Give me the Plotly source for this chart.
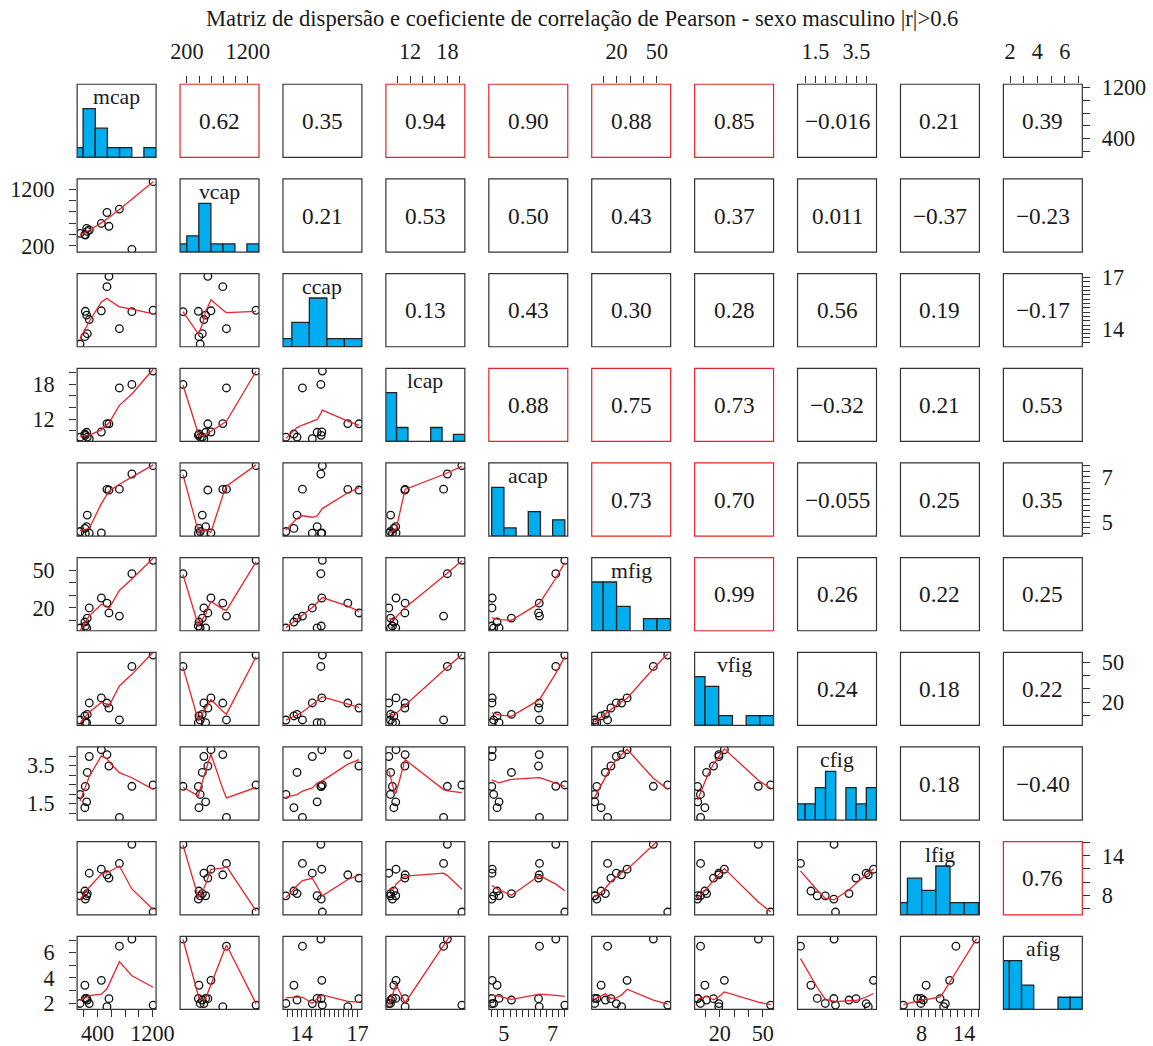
import numpy as np
import plotly.graph_objects as go

# ---------------------------------------------------------------- data
variables = ["mcap", "vcap", "ccap", "lcap", "acap", "mfig", "vfig", "cfig", "lfig", "afig"]

mcap = [145, 215, 222, 241, 250, 279, 455, 537, 566, 718, 900, 1210]
vcap = [419, 398, 388, 508, 453, 479, 595, 789, 544, 849, 136, 1335]
ccap = [13.15, 13.58, 15.05, 14.83, 13.75, 14.57, 15.08, 16.48, 17.08, 14.04, 15.03, 15.11]
lcap = [8.85, 9.40, 9.17, 9.70, 8.88, 8.59, 9.75, 11.21, 11.17, 17.38, 17.99, 20.32]
acap = [4.58, 4.72, 4.50, 4.80, 5.31, 4.51, 4.52, 6.45, 6.42, 6.46, 7.13, 7.50]
mfig = [3.7, 8.5, 5.3, 3.8, 11.7, 19.8, 27.8, 23.7, 15.8, 13.3, 47.3, 58.0]
vfig = [6.5, 9.6, 4.5, 4.6, 10.8, 19.4, 23.2, 19.3, 15.6, 6.6, 46.9, 55.5]
cfig = [1.98, 1.28, 2.40, 1.59, 3.14, 3.98, 4.34, 4.08, 3.48, 0.77, 2.41, 2.48]
lfig = [7.90, 8.63, 7.40, 7.91, 8.24, 11.34, 11.95, 11.10, 10.60, 12.83, 15.73, 5.43]
afig = [1.98, 3.42, 2.37, 2.38, 2.25, 1.97, 3.81, 1.72, 2.36, 6.51, 7.08, 1.85]

# Pearson r, upper triangle, one list per row
r_mcap = [0.62, 0.35, 0.94, 0.90, 0.88, 0.85, -0.016, 0.21, 0.39]
r_vcap = [0.21, 0.53, 0.50, 0.43, 0.37, 0.011, -0.37, -0.23]
r_ccap = [0.13, 0.43, 0.30, 0.28, 0.56, 0.19, -0.17]
r_lcap = [0.88, 0.75, 0.73, -0.32, 0.21, 0.53]
r_acap = [0.73, 0.70, -0.055, 0.25, 0.35]
r_mfig = [0.99, 0.26, 0.22, 0.25]
r_vfig = [0.24, 0.18, 0.22]
r_cfig = [0.18, -0.40]
r_lfig = [0.76]
r_threshold = 0.6

# tick marks on horizontal and vertical axes, and the values that carry a label
x_ticks = {
    "mcap": [200, 400, 600, 800, 1000, 1200],
    "vcap": [200, 400, 600, 800, 1000, 1200],
    "ccap": [13.25, 13.5, 13.75, 14, 14.25, 14.5, 14.75, 15, 15.25, 15.5, 15.75, 16, 16.25, 16.5, 16.75, 17],
    "lcap": [10, 12, 14, 16, 18, 20],
    "acap": [4.5, 4.75, 5, 5.25, 5.5, 5.75, 6, 6.25, 6.5, 6.75, 7, 7.25, 7.5],
    "mfig": [10, 20, 30, 40, 50],
    "vfig": [10, 20, 30, 40, 50],
    "cfig": [1.0, 1.5, 2.0, 2.5, 3.0, 3.5, 4.0],
    "lfig": [6, 7, 8, 9, 10, 11, 12, 13, 14, 15, 16],
    "afig": [2, 3, 4, 5, 6, 7],
}
y_ticks = {
    "mcap": [200, 400, 600, 800, 1000, 1200],
    "vcap": [200, 400, 600, 800, 1000, 1200],
    "ccap": [13.25, 13.5, 13.75, 14, 14.25, 14.5, 14.75, 15, 15.25, 15.5, 15.75, 16, 16.25, 16.5, 16.75, 17],
    "lcap": [10, 12, 14, 16, 18, 20],
    "acap": [4.5, 4.75, 5, 5.25, 5.5, 5.75, 6, 6.25, 6.5, 6.75, 7, 7.25, 7.5],
    "mfig": [10, 20, 30, 40, 50],
    "vfig": [10, 20, 30, 40, 50],
    "cfig": [1.0, 1.5, 2.0, 2.5, 3.0, 3.5, 4.0],
    "lfig": [6, 8, 10, 12, 14, 16],
    "afig": [2, 3, 4, 5, 6, 7],
}
tick_labels = {
    "mcap": [400, 1200], "vcap": [200, 1200], "ccap": [14, 17], "lcap": [12, 18],
    "acap": [5, 7], "mfig": [20, 50], "vfig": [20, 50], "cfig": [1.5, 3.5],
    "lfig": [8, 14], "afig": [2, 4, 6],
}
# histogram breaks: (first break, bin width)
hist_breaks = {
    "mcap": (0, 200), "vcap": (0, 200), "ccap": (12.5, 1), "lcap": (8, 2),
    "acap": (4.5, 0.5), "mfig": (0, 10), "vfig": (0, 10), "cfig": (0.5, 0.5),
    "lfig": (4, 2), "afig": (1, 1),
}

# ---------------------------------------------------------------- helpers
values = {name: np.asarray(globals()[name], float) for name in variables}
r_rows = [r_mcap, r_vcap, r_ccap, r_lcap, r_acap, r_mfig, r_vfig, r_cfig, r_lfig]


def _lowest(x, y, xs, nleft, nright, rw, userw):
    n = len(x)
    rng = x[-1] - x[0]
    h = max(xs - x[nleft], x[nright] - xs)
    h9, h1 = 0.999 * h, 0.001 * h
    w = np.zeros(n)
    a = 0.0
    j = nleft
    while j < n:
        r = abs(x[j] - xs)
        if r <= h9:
            w[j] = 1.0 if r <= h1 else (1 - (r / h) ** 3) ** 3
            if userw:
                w[j] *= rw[j]
            a += w[j]
        elif x[j] > xs:
            break
        j += 1
    nrt = j - 1
    if a <= 0:
        return 0.0, False
    sl = slice(nleft, nrt + 1)
    w[sl] /= a
    if h > 0:
        a = np.sum(w[sl] * x[sl])
        b = xs - a
        c = np.sum(w[sl] * (x[sl] - a) ** 2)
        if np.sqrt(c) > 0.001 * rng:
            b /= c
            w[sl] *= b * (x[sl] - a) + 1
    return float(np.sum(w[sl] * y[sl])), True


def lowess(x, y, f=2 / 3, nsteps=3):
    """Cleveland's robust locally weighted smoother (same algorithm as R's lowess)."""
    o = np.argsort(x, kind="mergesort")
    x = np.asarray(x, float)[o]
    y = np.asarray(y, float)[o]
    n = len(x)
    delta = 0.01 * (x[-1] - x[0])
    ns = max(2, min(n, int(f * n + 1e-7)))
    ys = np.zeros(n)
    rw = np.ones(n)
    for it in range(1, nsteps + 2):
        nleft, nright, last, i = 0, ns - 1, -1, 0
        while True:
            if nright < n - 1:
                d1 = x[i] - x[nleft]
                d2 = x[nright + 1] - x[i]
                if d1 > d2:
                    nleft += 1
                    nright += 1
                    continue
            val, ok = _lowest(x, y, x[i], nleft, nright, rw, it > 1)
            ys[i] = val if ok else y[i]
            if last < i - 1:
                denom = x[i] - x[last]
                for j in range(last + 1, i):
                    a = (x[j] - x[last]) / denom
                    ys[j] = a * ys[i] + (1 - a) * ys[last]
            last = i
            cut = x[last] + delta
            i = last + 1
            while i < n:
                if x[i] > cut:
                    break
                if x[i] == x[last]:
                    ys[i] = ys[last]
                    last = i
                i += 1
            i = max(last + 1, i - 1)
            if last >= n - 1:
                break
        res = y - ys
        sc = np.abs(res).mean()
        if it > nsteps:
            break
        ar = np.abs(res)
        s = np.sort(ar)
        m1 = n // 2
        cmad = 3 * (s[m1] + s[n - m1 - 1]) if n % 2 == 0 else 6 * s[m1]
        if cmad < 1e-7 * sc:
            break
        c9, c1 = 0.999 * cmad, 0.001 * cmad
        rw = np.where(ar <= c1, 1.0, np.where(ar > c9, 0.0, (1 - (ar / cmad) ** 2) ** 2))
    return x, ys


def fmt_r(r):
    d = max(2, 1 - int(np.floor(np.log10(abs(r)))))
    return ("\u2212" if r < 0 else "") + f"{abs(r):.{d}f}"


def fmt_tick(v):
    return str(int(v)) if float(v).is_integer() else str(v)


def tick_text(marks, labelled):
    return [fmt_tick(t) if np.any(np.isclose(t, labelled)) else "" for t in marks]


def usr_range(v):
    lo, hi = v.min(), v.max()
    pad = 0.04 * (hi - lo)
    return [lo - pad, hi + pad]


def histogram(v, start, width):
    # right-closed bins, lowest break included
    idx = np.ceil((v - start) / width - 1e-9).astype(int) - 1
    idx[idx < 0] = 0
    counts = np.bincount(idx)
    centers = start + width * (np.arange(len(counts)) + 0.5)
    last_break = start + width * len(counts)
    keep = counts > 0
    return centers[keep], counts[keep] / counts.max(), last_break


# ---------------------------------------------------------------- geometry / style
# layout is specified in screen pixels; the page adds an 8px body margin and the
# viewer shows it slightly reduced, so screen positions are mapped back to figure pixels
PAGE_MARGIN = 8
VIEW_SX, VIEW_SY = 0.976, 0.984
W, H = 1170, 1056
LEFT0, TOP0 = 75, 83            # screen position of the first panel
PW, PH = 79, 73
DX, DY = 103, 94.5
FS = 1 / VIEW_SX                # font compensation for the reduced view


def px_x(p):
    return (p / VIEW_SX - PAGE_MARGIN) / W


def px_y(p):
    return 1 - (p / VIEW_SY - PAGE_MARGIN) / H


FONT = "Liberation Serif"
TXT = "#1a1a1a"
FRAME = "#333333"
RED = "#e8232a"
HIST_FILL = "#00aeef"

nv = len(variables)
fig = go.Figure()
layout = dict(
    width=W, height=H, autosize=False,
    margin=dict(l=0, r=0, t=0, b=0),
    paper_bgcolor="white", plot_bgcolor="white",
    showlegend=False, hovermode=False,
)
annotations = []
shapes = []

for i in range(nv):
    for j in range(nv):
        k = i * nv + j + 1
        sfx = "" if k == 1 else str(k)
        xname, yname = "x" + sfx, "y" + sfx
        left = LEFT0 + DX * j
        top = TOP0 + DY * i
        vx, vy = variables[j], variables[i]

        upper = j > i
        r = r_rows[i][j - i - 1] if upper else None
        strong = upper and abs(r) > r_threshold

        xr = usr_range(values[vx])
        yr = [0, 1.5] if i == j else usr_range(values[vy])
        if i == j:
            start, width = hist_breaks[vx]
            centers, heights, last_break = histogram(values[vx], start, width)
            # the bar panel reaches out to the last break when it lies beyond the data
            xr = [xr[0], max(xr[1], last_break)]

        x0, x1 = px_x(left), px_x(left + PW)
        y0, y1 = px_y(top + PH), px_y(top)
        xa = dict(
            domain=[x0, x1], anchor=yname, range=xr,
            showgrid=False, zeroline=False, showline=False,
            ticks="", showticklabels=False, fixedrange=True,
        )
        ya = dict(
            domain=[y0, y1], anchor=xname, range=yr,
            showgrid=False, zeroline=False, showline=False,
            ticks="", showticklabels=False, fixedrange=True,
        )
        # panel frame, red where |r| passes the threshold
        shapes.append(dict(
            type="rect", xref="paper", yref="paper", x0=x0, x1=x1, y0=y0, y1=y1,
            line=dict(color=RED if strong else FRAME, width=1.2),
            fillcolor="rgba(0,0,0,0)", layer="above",
        ))

        tick_style = dict(
            ticks="outside", ticklen=7, tickwidth=1.2, tickcolor=FRAME,
            showticklabels=True, tickfont=dict(family=FONT, size=21.7 * FS, color=TXT),
        )
        x_top = i == 0 and j % 2 == 1
        x_bottom = i == nv - 1 and j % 2 == 0
        if x_top or x_bottom:
            xa.update(tick_style)
            xa.update(
                side="top" if x_top else "bottom",
                tickvals=x_ticks[vx], ticktext=tick_text(x_ticks[vx], tick_labels[vx]),
                ticklabelstandoff=8 if x_top else -3,
            )
        y_left = j == 0 and i % 2 == 1
        y_right = j == nv - 1 and i % 2 == 0
        if y_left or y_right:
            ya.update(tick_style)
            ya.update(
                side="left" if y_left else "right",
                tickvals=y_ticks[vy], ticktext=tick_text(y_ticks[vy], tick_labels[vy]),
                ticklabelstandoff=10 if y_left else 7,
            )
        layout["xaxis" + sfx] = xa
        layout["yaxis" + sfx] = ya

        cx = px_x(left + PW / 2)
        if i == j:
            fig.add_trace(go.Bar(
                x=centers, y=heights, width=width, xaxis=xname, yaxis=yname,
                marker=dict(color=HIST_FILL, line=dict(color="#222222", width=1.3)),
            ))
            annotations.append(dict(
                x=cx, y=px_y(top + 13), xref="paper", yref="paper",
                text=vx, showarrow=False, xanchor="center", yanchor="middle",
                font=dict(family=FONT, size=21.2 * FS, color=TXT),
            ))
        elif upper:
            # empty carrier so the panel's axes (ticks on the outer rows/columns) exist
            fig.add_trace(go.Scatter(
                x=[np.mean(xr)], y=[np.mean(yr)], mode="markers", xaxis=xname, yaxis=yname,
                marker=dict(size=1, opacity=0), hoverinfo="skip",
            ))
            annotations.append(dict(
                x=cx, y=px_y(top + PH / 2), xref="paper", yref="paper",
                text=fmt_r(r), showarrow=False, xanchor="center", yanchor="middle",
                font=dict(family=FONT, size=22.7 * FS, color=TXT),
            ))
        else:
            px_, py_ = values[vx], values[vy]
            fig.add_trace(go.Scatter(
                x=px_, y=py_, mode="markers", xaxis=xname, yaxis=yname,
                marker=dict(symbol="circle-open", size=7.6, color="#111111",
                            line=dict(width=1.3, color="#111111")),
            ))
            sx, sy = lowess(px_, py_)
            fig.add_trace(go.Scatter(
                x=sx, y=sy, mode="lines", xaxis=xname, yaxis=yname,
                line=dict(color=RED, width=1.3),
            ))

annotations.append(dict(
    x=px_x(580), y=px_y(17), xref="paper", yref="paper",
    text="Matriz de dispersão e coeficiente de correlação de Pearson - sexo masculino |r|>0.6",
    showarrow=False, xanchor="center", yanchor="middle",
    font=dict(family=FONT, size=22.1 * FS, color=TXT),
))
layout["annotations"] = annotations
layout["shapes"] = shapes
fig.update_layout(**layout)
fig.write_html("out.html")
